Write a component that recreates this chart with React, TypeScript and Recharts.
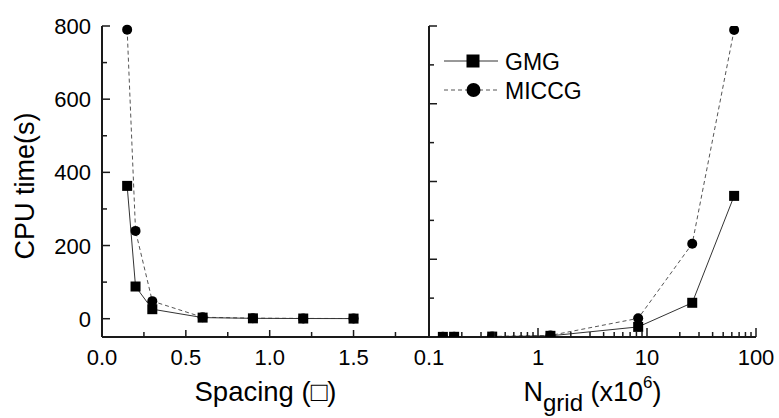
import React from "react"
import { Legend, Line, LineChart, XAxis, YAxis } from "recharts"

// values
const spacing = [0.15, 0.2, 0.3, 0.6, 0.9, 1.2, 1.5]
const nGrid = [63, 26, 8.3, 1.3, 0.38, 0.17, 0.134]
const gmgTime = [363, 88, 26, 3, 1, 0.5, 0.3]
const miccgTime = [790, 240, 48, 4, 1.5, 0.8, 0.5]

const spacingTicks = [0, 0.25, 0.5, 0.75, 1, 1.25, 1.5, 1.75]
const spacingLabels = [0, 0.5, 1, 1.5]
const gridTicks = [
  0.1, 0.2, 0.3, 0.4, 0.5, 0.6, 0.7, 0.8, 0.9,
  1, 2, 3, 4, 5, 6, 7, 8, 9,
  10, 20, 30, 40, 50, 60, 70, 80, 90, 100,
]
const gridLabels = [0.1, 1, 10, 100]
const timeTicks = [0, 100, 200, 300, 400, 500, 600, 700, 800]
const timeLabels = [0, 200, 400, 600, 800]
const legendOrder = ["gmg", "miccg"]

const FONT = "'Liberation Sans', Arial, Helvetica, sans-serif"
const AXIS = "#1a1a1a"

const leftData = spacing.map((s, i) => ({ x: s, gmg: gmgTime[i], miccg: miccgTime[i] }))
const rightData = nGrid.map((n, i) => ({ x: n, gmg: gmgTime[i], miccg: miccgTime[i] }))

const isMajorTime = (v: number) => timeLabels.includes(v)
const isMajorLog = (v: number) => gridLabels.includes(v)

// inward ticks, drawn by hand since recharts only draws them outward
const LeftTick = ({ x, y, payload, showLabel }: any) => (
  <g>
    <line x1={x} x2={x + (isMajorTime(payload.value) ? 8 : 5)} y1={y} y2={y} stroke={AXIS} strokeWidth={1.5} />
    {showLabel && timeLabels.includes(payload.value) && (
      <text x={x - 11} y={y + 8} textAnchor="end" fontSize={22} fontFamily={FONT} fill="#000">
        {payload.value}
      </text>
    )}
  </g>
)

const RightTick = ({ x, y, payload }: any) => (
  <line x1={x} x2={x - (isMajorTime(payload.value) ? 8 : 5)} y1={y} y2={y} stroke={AXIS} strokeWidth={1.5} />
)

const SpacingTick = ({ x, y, payload, top }: any) => {
  const major = spacingLabels.includes(payload.value)
  const len = major ? 7 : 5
  return (
    <g>
      <line x1={x} x2={x} y1={y} y2={top ? y + len : y - len} stroke={AXIS} strokeWidth={1.5} />
      {!top && major && (
        <text x={x} y={y + 28} textAnchor="middle" fontSize={22} fontFamily={FONT} fill="#000">
          {payload.value.toFixed(1)}
        </text>
      )}
    </g>
  )
}

const GridTick = ({ x, y, payload, top }: any) => {
  const major = isMajorLog(payload.value)
  const len = major ? 9 : 5
  return (
    <g>
      <line x1={x} x2={x} y1={y} y2={top ? y + len : y - len} stroke={AXIS} strokeWidth={1.5} />
      {!top && major && (
        <text x={x} y={y + 28} textAnchor="middle" fontSize={22} fontFamily={FONT} fill="#000">
          {payload.value}
        </text>
      )}
    </g>
  )
}

const SquareDot = (size: number) => (props: any) => {
  const { cx, cy, index } = props
  if (cx == null || cy == null) return <g key={index} />
  return <rect key={index} x={cx - size / 2} y={cy - size / 2} width={size} height={size} fill="#000" />
}

const CircleDot = (r: number) => (props: any) => {
  const { cx, cy, index } = props
  if (cx == null || cy == null) return <g key={index} />
  return <circle key={index} cx={cx} cy={cy} r={r} fill="#000" />
}

const SpacingTitle = (props: any) => {
  const vb = props.viewBox
  return (
    <text x={vb.x + vb.width / 2} y={vb.y + 63.5} textAnchor="middle" fontSize={27.5} fontFamily={FONT} fill="#000">
      Spacing (□)
    </text>
  )
}

const GridTitle = (props: any) => {
  const vb = props.viewBox
  return (
    <text x={vb.x + vb.width / 2} y={vb.y + 63.5} textAnchor="middle" fontSize={27} fontFamily={FONT} fill="#000">
      <tspan>N</tspan>
      <tspan fontSize={24} dy={10}>grid</tspan>
      <tspan dy={-10}> (x10</tspan>
      <tspan fontSize={17} dy={-12.5}>6</tspan>
      <tspan dy={12.5}>)</tspan>
    </text>
  )
}

const TimeTitle = (props: any) => {
  const vb = props.viewBox
  const x = vb.x + 33.7
  const y = vb.y + vb.height / 2 + 4.5
  return (
    <text x={x} y={y} transform={`rotate(-90, ${x}, ${y})`} textAnchor="middle" fontSize={27} fontFamily={FONT} fill="#000">
      CPU time(s)
    </text>
  )
}

const LegendBox = ({ payload }: any) => {
  const rows = [...(payload ?? [])].sort(
    (a: any, b: any) => legendOrder.indexOf(a.dataKey) - legendOrder.indexOf(b.dataKey)
  )
  return (
    <svg width={150} height={62} style={{ display: "block" }}>
      {rows.map((entry: any, i: number) => {
        const y = 16 + i * 29
        const isGmg = entry.dataKey === "gmg"
        return (
          <g key={entry.value}>
            <line
              x1={4}
              x2={58}
              y1={y}
              y2={y}
              stroke={isGmg ? "#333" : "#555"}
              strokeWidth={1}
              strokeDasharray={isGmg ? undefined : "4 3"}
            />
            {isGmg ? <rect x={26.5} y={y - 6.5} width={13} height={13} fill="#000" /> : <circle cx={33.5} cy={y} r={7} fill="#000" />}
            <text x={65} y={y + 8.5} fontSize={23} fontFamily={FONT} fill="#000">
              {entry.value}
            </text>
          </g>
        )
      })}
    </svg>
  )
}

export default function App() {
  return (
    <div style={{ position: "absolute", left: 0, top: 0, width: 779, height: 418, background: "#fff" }}>
      <div style={{ position: "absolute", left: 0, top: 0 }}>
        <LineChart width={440} height={418} data={leftData} margin={{ top: 26, right: 11, bottom: 21, left: 0 }}>
          <XAxis
            xAxisId="b"
            dataKey="x"
            type="number"
            domain={[0, 1.95]}
            ticks={spacingTicks}
            interval={0}
            height={60}
            tickSize={0}
            tickMargin={0}
            tickLine={false}
            axisLine={{ stroke: AXIS, strokeWidth: 2 }}
            tick={<SpacingTick />}
            label={<SpacingTitle />}
          />
          <XAxis
            xAxisId="t"
            orientation="top"
            type="number"
            domain={[0, 1.95]}
            ticks={spacingTicks}
            interval={0}
            height={0}
            tickSize={0}
            tickMargin={0}
            tickLine={false}
            allowDataOverflow
            axisLine={{ stroke: AXIS, strokeWidth: 2 }}
            tick={<SpacingTick top />}
          />
          <YAxis
            yAxisId="l"
            type="number"
            domain={[-50, 800]}
            ticks={timeTicks}
            interval={0}
            width={102}
            tickSize={0}
            tickMargin={0}
            tickLine={false}
            axisLine={{ stroke: AXIS, strokeWidth: 2 }}
            tick={<LeftTick showLabel />}
            label={<TimeTitle />}
          />
          <YAxis
            yAxisId="r"
            orientation="right"
            type="number"
            domain={[-50, 800]}
            ticks={timeTicks}
            interval={0}
            width={0}
            tickSize={0}
            tickMargin={0}
            tickLine={false}
            allowDataOverflow
            axisLine={{ stroke: AXIS, strokeWidth: 2 }}
            tick={<RightTick />}
          />
          <Line
            xAxisId="b"
            yAxisId="l"
            type="linear"
            dataKey="miccg"
            name="MICCG"
            stroke="#555"
            strokeWidth={1}
            strokeDasharray="4 3"
            dot={CircleDot(5)}
            isAnimationActive={false}
          />
          <Line
            xAxisId="b"
            yAxisId="l"
            type="linear"
            dataKey="gmg"
            name="GMG"
            stroke="#333"
            strokeWidth={1}
            dot={SquareDot(10)}
            isAnimationActive={false}
          />
        </LineChart>
      </div>
      <div style={{ position: "absolute", left: 380, top: 0 }}>
        <LineChart width={399} height={418} data={rightData} margin={{ top: 26, right: 23, bottom: 21, left: 0 }}>
          <XAxis
            xAxisId="b"
            dataKey="x"
            type="number"
            scale="log"
            domain={[0.1, 100]}
            ticks={gridTicks}
            interval={0}
            height={60}
            tickSize={0}
            tickMargin={0}
            tickLine={false}
            allowDataOverflow
            axisLine={{ stroke: AXIS, strokeWidth: 2 }}
            tick={<GridTick />}
            label={<GridTitle />}
          />
          <XAxis
            xAxisId="t"
            orientation="top"
            type="number"
            scale="log"
            domain={[0.1, 100]}
            ticks={gridTicks}
            interval={0}
            height={0}
            tickSize={0}
            tickMargin={0}
            tickLine={false}
            allowDataOverflow
            axisLine={{ stroke: AXIS, strokeWidth: 2 }}
            tick={<GridTick top />}
          />
          <YAxis
            yAxisId="l"
            type="number"
            domain={[0, 800]}
            ticks={timeTicks}
            interval={0}
            width={49}
            tickSize={0}
            tickMargin={0}
            tickLine={false}
            allowDataOverflow
            axisLine={{ stroke: AXIS, strokeWidth: 2 }}
            tick={<LeftTick />}
          />
          <YAxis
            yAxisId="r"
            orientation="right"
            type="number"
            domain={[0, 800]}
            ticks={timeTicks}
            interval={0}
            width={0}
            tickSize={0}
            tickMargin={0}
            tickLine={false}
            allowDataOverflow
            axisLine={{ stroke: AXIS, strokeWidth: 2 }}
            tick={<RightTick />}
          />
          <Legend
            layout="vertical"
            align="center"
            verticalAlign="middle"
            content={<LegendBox />}
            wrapperStyle={{ left: 60, top: 45, width: 150, height: 62 }}
          />
          <Line
            xAxisId="b"
            yAxisId="l"
            type="linear"
            dataKey="miccg"
            name="MICCG"
            stroke="#555"
            strokeWidth={1}
            strokeDasharray="4 3"
            dot={CircleDot(5)}
            isAnimationActive={false}
          />
          <Line
            xAxisId="b"
            yAxisId="l"
            type="linear"
            dataKey="gmg"
            name="GMG"
            stroke="#333"
            strokeWidth={1}
            dot={SquareDot(10)}
            isAnimationActive={false}
          />
        </LineChart>
      </div>
    </div>
  )
}
